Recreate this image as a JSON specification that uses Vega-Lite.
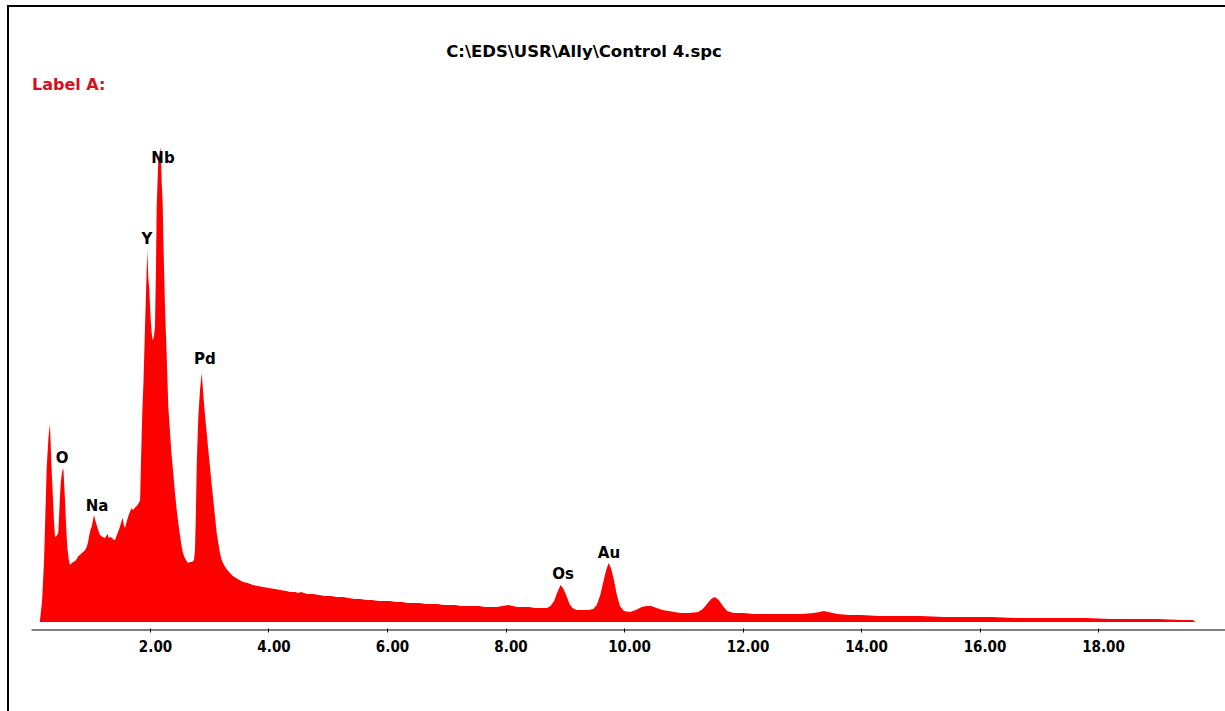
{
  "$schema": "https://vega.github.io/schema/vega-lite/v6.json",
  "width": 1240,
  "height": 720,
  "autosize": {"type": "none"},
  "padding": {"left": 8, "top": 6, "right": 0, "bottom": 0},
  "background": "white",
  "config": {"view": {"stroke": "black", "strokeWidth": 2}, "font": "DejaVu Sans"},
  "title": {"text": "C:\\EDS\\USR\\Ally\\Control 4.spc", "anchor": "middle", "frame": "group", "offset": -62, "dx": -44, "baseline": "middle", "font": "DejaVu Sans", "fontSize": 16.5, "fontWeight": "bold", "color": "black"},
  "datasets": {
    "spectrum": [
      {"energy": 0.14, "counts": 0}, {"energy": 0.177, "counts": 20}, {"energy": 0.211, "counts": 60}, {"energy": 0.235, "counts": 110},
      {"energy": 0.257, "counts": 155}, {"energy": 0.287, "counts": 185}, {"energy": 0.312, "counts": 198}, {"energy": 0.334, "counts": 160},
      {"energy": 0.358, "counts": 129}, {"energy": 0.38, "counts": 100}, {"energy": 0.397, "counts": 85}, {"energy": 0.425, "counts": 86},
      {"energy": 0.452, "counts": 89}, {"energy": 0.475, "counts": 118}, {"energy": 0.493, "counts": 139}, {"energy": 0.515, "counts": 150},
      {"energy": 0.537, "counts": 154}, {"energy": 0.565, "counts": 122}, {"energy": 0.585, "counts": 95}, {"energy": 0.604, "counts": 75},
      {"energy": 0.63, "counts": 62}, {"energy": 0.65, "counts": 57}, {"energy": 0.68, "counts": 59}, {"energy": 0.705, "counts": 60},
      {"energy": 0.735, "counts": 61}, {"energy": 0.763, "counts": 63}, {"energy": 0.79, "counts": 66}, {"energy": 0.819, "counts": 67},
      {"energy": 0.846, "counts": 69}, {"energy": 0.874, "counts": 70}, {"energy": 0.905, "counts": 72}, {"energy": 0.932, "counts": 75},
      {"energy": 0.955, "counts": 80}, {"energy": 0.979, "counts": 88}, {"energy": 1.0, "counts": 93}, {"energy": 1.016, "counts": 95},
      {"energy": 1.035, "counts": 101}, {"energy": 1.055, "counts": 107}, {"energy": 1.075, "counts": 102}, {"energy": 1.1, "counts": 97},
      {"energy": 1.13, "counts": 91}, {"energy": 1.156, "counts": 87}, {"energy": 1.2, "counts": 85}, {"energy": 1.241, "counts": 84},
      {"energy": 1.262, "counts": 86}, {"energy": 1.283, "counts": 88}, {"energy": 1.305, "counts": 84}, {"energy": 1.325, "counts": 85},
      {"energy": 1.36, "counts": 84}, {"energy": 1.39, "counts": 82}, {"energy": 1.409, "counts": 82}, {"energy": 1.435, "counts": 86},
      {"energy": 1.46, "counts": 90}, {"energy": 1.48, "counts": 93}, {"energy": 1.502, "counts": 97}, {"energy": 1.52, "counts": 101},
      {"energy": 1.539, "counts": 104}, {"energy": 1.558, "counts": 97}, {"energy": 1.578, "counts": 94}, {"energy": 1.6, "counts": 99},
      {"energy": 1.629, "counts": 105}, {"energy": 1.66, "counts": 110}, {"energy": 1.691, "counts": 114}, {"energy": 1.71, "counts": 112},
      {"energy": 1.73, "counts": 113}, {"energy": 1.755, "counts": 115}, {"energy": 1.776, "counts": 116}, {"energy": 1.8, "counts": 118},
      {"energy": 1.82, "counts": 120}, {"energy": 1.833, "counts": 122}, {"energy": 1.848, "counts": 160}, {"energy": 1.87, "counts": 210},
      {"energy": 1.89, "counts": 240}, {"energy": 1.916, "counts": 295}, {"energy": 1.938, "counts": 340}, {"energy": 1.954, "counts": 372},
      {"energy": 1.971, "counts": 345}, {"energy": 1.988, "counts": 332}, {"energy": 2.012, "counts": 302}, {"energy": 2.03, "counts": 288},
      {"energy": 2.046, "counts": 282}, {"energy": 2.065, "counts": 285}, {"energy": 2.084, "counts": 295}, {"energy": 2.1, "counts": 350},
      {"energy": 2.113, "counts": 415}, {"energy": 2.14, "counts": 462}, {"energy": 2.169, "counts": 470}, {"energy": 2.181, "counts": 475},
      {"energy": 2.197, "counts": 440}, {"energy": 2.214, "counts": 419}, {"energy": 2.224, "counts": 385}, {"energy": 2.253, "counts": 315},
      {"energy": 2.282, "counts": 265}, {"energy": 2.309, "counts": 215}, {"energy": 2.338, "counts": 190}, {"energy": 2.36, "counts": 170},
      {"energy": 2.388, "counts": 152}, {"energy": 2.42, "counts": 130}, {"energy": 2.451, "counts": 112}, {"energy": 2.48, "counts": 98},
      {"energy": 2.506, "counts": 87}, {"energy": 2.53, "counts": 77}, {"energy": 2.557, "counts": 69}, {"energy": 2.58, "counts": 65},
      {"energy": 2.608, "counts": 62}, {"energy": 2.641, "counts": 59}, {"energy": 2.675, "counts": 60}, {"energy": 2.709, "counts": 60},
      {"energy": 2.743, "counts": 62}, {"energy": 2.759, "counts": 72}, {"energy": 2.775, "counts": 110}, {"energy": 2.788, "counts": 155},
      {"energy": 2.815, "counts": 205}, {"energy": 2.844, "counts": 232}, {"energy": 2.873, "counts": 249}, {"energy": 2.9, "counts": 227},
      {"energy": 2.928, "counts": 207}, {"energy": 2.957, "counts": 189}, {"energy": 2.987, "counts": 170}, {"energy": 3.013, "counts": 155},
      {"energy": 3.04, "counts": 138}, {"energy": 3.068, "counts": 122}, {"energy": 3.1, "counts": 104}, {"energy": 3.126, "counts": 89},
      {"energy": 3.155, "counts": 78}, {"energy": 3.181, "counts": 69}, {"energy": 3.205, "counts": 63}, {"energy": 3.232, "counts": 59},
      {"energy": 3.26, "counts": 56}, {"energy": 3.291, "counts": 53}, {"energy": 3.32, "counts": 51}, {"energy": 3.35, "counts": 49},
      {"energy": 3.4, "counts": 46}, {"energy": 3.451, "counts": 44}, {"energy": 3.51, "counts": 42}, {"energy": 3.57, "counts": 40},
      {"energy": 3.65, "counts": 39}, {"energy": 3.738, "counts": 37}, {"energy": 3.82, "counts": 36}, {"energy": 3.907, "counts": 35},
      {"energy": 4.0, "counts": 34}, {"energy": 4.11, "counts": 33}, {"energy": 4.2, "counts": 32}, {"energy": 4.3, "counts": 31},
      {"energy": 4.363, "counts": 30}, {"energy": 4.45, "counts": 30}, {"energy": 4.5, "counts": 29}, {"energy": 4.55, "counts": 30},
      {"energy": 4.65, "counts": 28}, {"energy": 4.75, "counts": 28}, {"energy": 4.85, "counts": 27}, {"energy": 4.95, "counts": 26},
      {"energy": 5.05, "counts": 26}, {"energy": 5.15, "counts": 25}, {"energy": 5.25, "counts": 25}, {"energy": 5.35, "counts": 24},
      {"energy": 5.45, "counts": 23}, {"energy": 5.55, "counts": 23}, {"energy": 5.65, "counts": 22}, {"energy": 5.75, "counts": 22},
      {"energy": 5.85, "counts": 21}, {"energy": 5.95, "counts": 21}, {"energy": 6.05, "counts": 21}, {"energy": 6.15, "counts": 20},
      {"energy": 6.25, "counts": 20}, {"energy": 6.35, "counts": 19}, {"energy": 6.45, "counts": 19}, {"energy": 6.55, "counts": 19},
      {"energy": 6.65, "counts": 18}, {"energy": 6.75, "counts": 18}, {"energy": 6.85, "counts": 18}, {"energy": 6.95, "counts": 17},
      {"energy": 7.05, "counts": 17}, {"energy": 7.15, "counts": 17}, {"energy": 7.25, "counts": 16}, {"energy": 7.35, "counts": 16},
      {"energy": 7.45, "counts": 16}, {"energy": 7.55, "counts": 16}, {"energy": 7.65, "counts": 15}, {"energy": 7.75, "counts": 15},
      {"energy": 7.85, "counts": 15}, {"energy": 7.95, "counts": 16}, {"energy": 8.05, "counts": 17}, {"energy": 8.12, "counts": 16},
      {"energy": 8.2, "counts": 15}, {"energy": 8.3, "counts": 15}, {"energy": 8.4, "counts": 15}, {"energy": 8.5, "counts": 14},
      {"energy": 8.6, "counts": 14}, {"energy": 8.7, "counts": 14}, {"energy": 8.76, "counts": 16}, {"energy": 8.82, "counts": 21},
      {"energy": 8.87, "counts": 29}, {"energy": 8.93, "counts": 37}, {"energy": 8.98, "counts": 33}, {"energy": 9.03, "counts": 26},
      {"energy": 9.08, "counts": 18}, {"energy": 9.13, "counts": 14}, {"energy": 9.2, "counts": 12}, {"energy": 9.3, "counts": 12},
      {"energy": 9.4, "counts": 12}, {"energy": 9.48, "counts": 13}, {"energy": 9.54, "counts": 17}, {"energy": 9.6, "counts": 27},
      {"energy": 9.65, "counts": 40}, {"energy": 9.7, "counts": 52}, {"energy": 9.74, "counts": 59}, {"energy": 9.78, "counts": 54},
      {"energy": 9.83, "counts": 42}, {"energy": 9.88, "counts": 27}, {"energy": 9.93, "counts": 16}, {"energy": 10.0, "counts": 11},
      {"energy": 10.1, "counts": 10}, {"energy": 10.2, "counts": 12}, {"energy": 10.3, "counts": 15}, {"energy": 10.38, "counts": 16},
      {"energy": 10.46, "counts": 16}, {"energy": 10.55, "counts": 14}, {"energy": 10.65, "counts": 12}, {"energy": 10.75, "counts": 11},
      {"energy": 10.85, "counts": 10}, {"energy": 10.95, "counts": 9}, {"energy": 11.1, "counts": 9}, {"energy": 11.25, "counts": 10},
      {"energy": 11.33, "counts": 13}, {"energy": 11.4, "counts": 18}, {"energy": 11.47, "counts": 23}, {"energy": 11.53, "counts": 25},
      {"energy": 11.6, "counts": 22}, {"energy": 11.67, "counts": 16}, {"energy": 11.74, "counts": 11}, {"energy": 11.85, "counts": 9},
      {"energy": 12.0, "counts": 9}, {"energy": 12.2, "counts": 8}, {"energy": 12.4, "counts": 8}, {"energy": 12.6, "counts": 8},
      {"energy": 12.8, "counts": 8}, {"energy": 13.0, "counts": 8}, {"energy": 13.2, "counts": 9}, {"energy": 13.3, "counts": 10},
      {"energy": 13.37, "counts": 11}, {"energy": 13.45, "counts": 10}, {"energy": 13.6, "counts": 8}, {"energy": 13.8, "counts": 7},
      {"energy": 14.0, "counts": 7}, {"energy": 14.3, "counts": 6}, {"energy": 14.6, "counts": 6}, {"energy": 15.0, "counts": 6},
      {"energy": 15.4, "counts": 5}, {"energy": 15.8, "counts": 5}, {"energy": 16.2, "counts": 5}, {"energy": 16.6, "counts": 4},
      {"energy": 17.0, "counts": 4}, {"energy": 17.4, "counts": 4}, {"energy": 17.8, "counts": 4}, {"energy": 18.2, "counts": 3},
      {"energy": 18.6, "counts": 3}, {"energy": 19.0, "counts": 3}, {"energy": 19.4, "counts": 2}, {"energy": 19.6, "counts": 2},
      {"energy": 19.65, "counts": 0}
    ],
    "peaks": [
      {"element": "O", "energy": 0.515, "counts": 164},
      {"element": "Na", "energy": 1.105, "counts": 116},
      {"element": "Y", "energy": 1.949, "counts": 383},
      {"element": "Nb", "energy": 2.219, "counts": 464},
      {"element": "Pd", "energy": 2.928, "counts": 263},
      {"element": "Os", "energy": 8.97, "counts": 48},
      {"element": "Au", "energy": 9.747, "counts": 69}
    ]
  },
  "layer": [
    {
      "data": {"name": "spectrum"},
      "mark": {"type": "area", "color": "#ff0000", "interpolate": "linear", "clip": true},
      "encoding": {
        "x": {
          "field": "energy", "type": "quantitative",
          "scale": {"domain": [-0.3966, 20.5316], "nice": false, "zero": false},
          "axis": {
            "values": [2, 4, 6, 8, 10, 12, 14, 16, 18], "format": ".2f", "domain": false, "grid": false,
            "ticks": true, "tickSize": 4, "tickColor": "black", "tickWidth": 1, "offset": -98,
            "labelFont": "DejaVu Sans Condensed", "labelFontWeight": "bold", "labelFontSize": 15, "labelColor": "black",
            "labelPadding": 7, "labelOffset": 5, "labelFlush": false, "labelOverlap": false, "title": null
          }
        },
        "y": {
          "field": "counts", "type": "quantitative",
          "scale": {"domain": [-104, 616], "nice": false, "zero": false},
          "axis": null
        },
        "y2": {"datum": 0}
      }
    },
    {
      "data": {"values": [{}]},
      "mark": {"type": "rule", "color": "black", "strokeWidth": 1},
      "encoding": {"x": {"datum": 0}, "x2": {"datum": 20.53}, "y": {"datum": -8}}
    },
    {
      "data": {"name": "peaks"},
      "mark": {"type": "text", "font": "DejaVu Sans", "fontWeight": "bold", "fontSize": 15, "color": "black", "baseline": "middle", "align": "center"},
      "encoding": {
        "x": {"field": "energy", "type": "quantitative"},
        "y": {"field": "counts", "type": "quantitative"},
        "text": {"field": "element"}
      }
    },
    {
      "data": {"values": [{}]},
      "mark": {"type": "text", "font": "DejaVu Sans", "fontWeight": "bold", "fontSize": 16, "color": "#d4101f", "baseline": "middle", "align": "left"},
      "encoding": {"x": {"datum": 0.0084}, "y": {"datum": 537}, "text": {"value": "Label A:"}}
    }
  ]
}
